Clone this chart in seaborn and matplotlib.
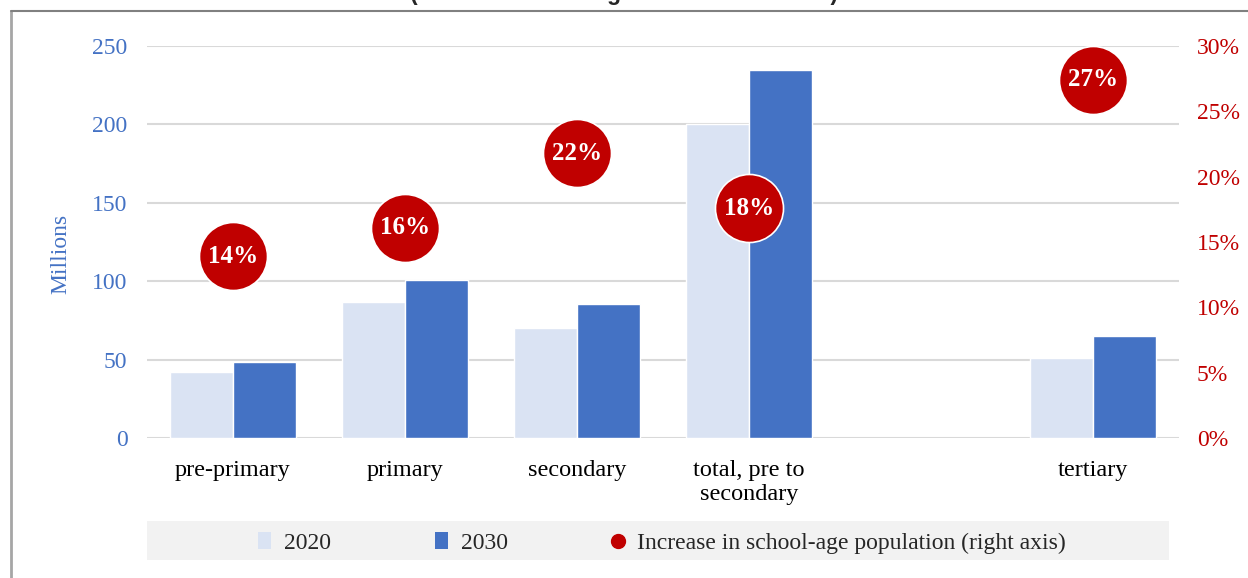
import matplotlib
matplotlib.use("Agg")
import matplotlib.pyplot as plt
from matplotlib.patches import Patch, Rectangle
from matplotlib.lines import Line2D
import seaborn as sns
import pandas as pd

# data
categories = ["pre-primary", "primary", "secondary", "total, pre to\nsecondary", " ", "tertiary"]
bar_cats = ["pre-primary", "primary", "secondary", "total, pre to\nsecondary", "tertiary"]
values_2020 = [42, 87, 70, 200, 51]
values_2030 = [48.5, 101, 85.5, 235, 65]
increase_pct = [13.9, 16.1, 21.8, 17.6, 27.4]
left_ticks = [0, 50, 100, 150, 200, 250]
right_ticks = [0, 5, 10, 15, 20, 25, 30]

blue = "#4472C4"
light = "#DAE3F3"
red = "#C00000"

sns.set_style("white")
plt.rcParams["font.family"] = ["Liberation Serif", "DejaVu Serif"]

df = pd.DataFrame({
    "category": bar_cats * 2,
    "year": ["2020"] * len(bar_cats) + ["2030"] * len(bar_cats),
    "value": values_2020 + values_2030,
})

fig = plt.figure(figsize=(12.48, 5.78), dpi=100)
ax = fig.add_axes([147 / 1248, 140 / 578, 1032 / 1248, 392 / 578])

sns.barplot(data=df, x="category", y="value", hue="year", order=categories,
            hue_order=["2020", "2030"], palette=[light, blue], width=0.73,
            saturation=1, ax=ax, legend=False)
ax.set_xlim(-0.5, len(categories) - 0.5)
ax.set_ylim(0, 250)
ax.set_yticks(left_ticks)
ax.grid(axis="y", color="#D9D9D9", lw=1.5)
ax.set_axisbelow(True)
for s in ax.spines.values():
    s.set_visible(False)
ax.tick_params(axis="y", length=0, pad=14, labelsize=17, labelcolor=blue)
ax.tick_params(axis="x", length=0, pad=16, labelsize=17.5, labelcolor="black")
for lab in ax.get_xticklabels():
    lab.set_linespacing(1.2)
ax.set_xlabel("")
ax.set_ylabel("Millions", fontsize=17, color=blue)
ax.yaxis.set_label_coords(-0.073, 0.47)

ax2 = ax.twinx()
ax2.set_ylim(0, 30)
ax2.set_yticks(right_ticks)
ax2.set_yticklabels([f"{t}%" for t in right_ticks])
ax2.tick_params(axis="y", length=0, pad=13, labelsize=17, labelcolor=red)
for s in ax2.spines.values():
    s.set_visible(False)
ax2.grid(False)

dot_x = [categories.index(c) for c in bar_cats]
sns.scatterplot(x=dot_x, y=increase_pct, s=2400, color=red, edgecolor="white",
                linewidth=1.2, ax=ax2, legend=False, zorder=5)
for xv, yv in zip(dot_x, increase_pct):
    ax2.text(xv, yv, f"{yv:.0f}%", ha="center", va="center", color="white",
             fontsize=18, fontweight="bold", zorder=6)

# cut-off title at the very top
fig.text(0.5, 1.0, "(the size of each age cohort in millions)", ha="center",
         va="baseline", fontsize=16.5, fontweight="bold",
         family=["Liberation Sans", "DejaVu Sans"])

# legend band
fig.patches.append(Rectangle((147 / 1248, 18 / 578), 1022 / 1248, 39 / 578,
                             transform=fig.transFigure, facecolor="#F2F2F2",
                             edgecolor="none", zorder=0))
handles = [
    Patch(facecolor=light, edgecolor="none"),
    Patch(facecolor=blue, edgecolor="none"),
    Line2D([], [], marker="o", ls="", color=red, markersize=10),
]
fig.legend(handles, ["2020", "2030", "Increase in school-age population (right axis)"],
           loc="center", bbox_to_anchor=(662 / 1248, 35 / 578), ncol=3,
           frameon=False, fontsize=17, handlelength=0.55, handleheight=0.75,
           handletextpad=0.55, columnspacing=4.4)

# page border lines
fig.add_artist(Line2D([11 / 1248, 11 / 1248], [0, 1 - 11 / 578], transform=fig.transFigure,
                      color="#A6A6A6", lw=2))
fig.add_artist(Line2D([11 / 1248, 1], [1 - 11 / 578, 1 - 11 / 578], transform=fig.transFigure,
                      color="#808080", lw=1.5))

fig.savefig("out.png", dpi=100)
